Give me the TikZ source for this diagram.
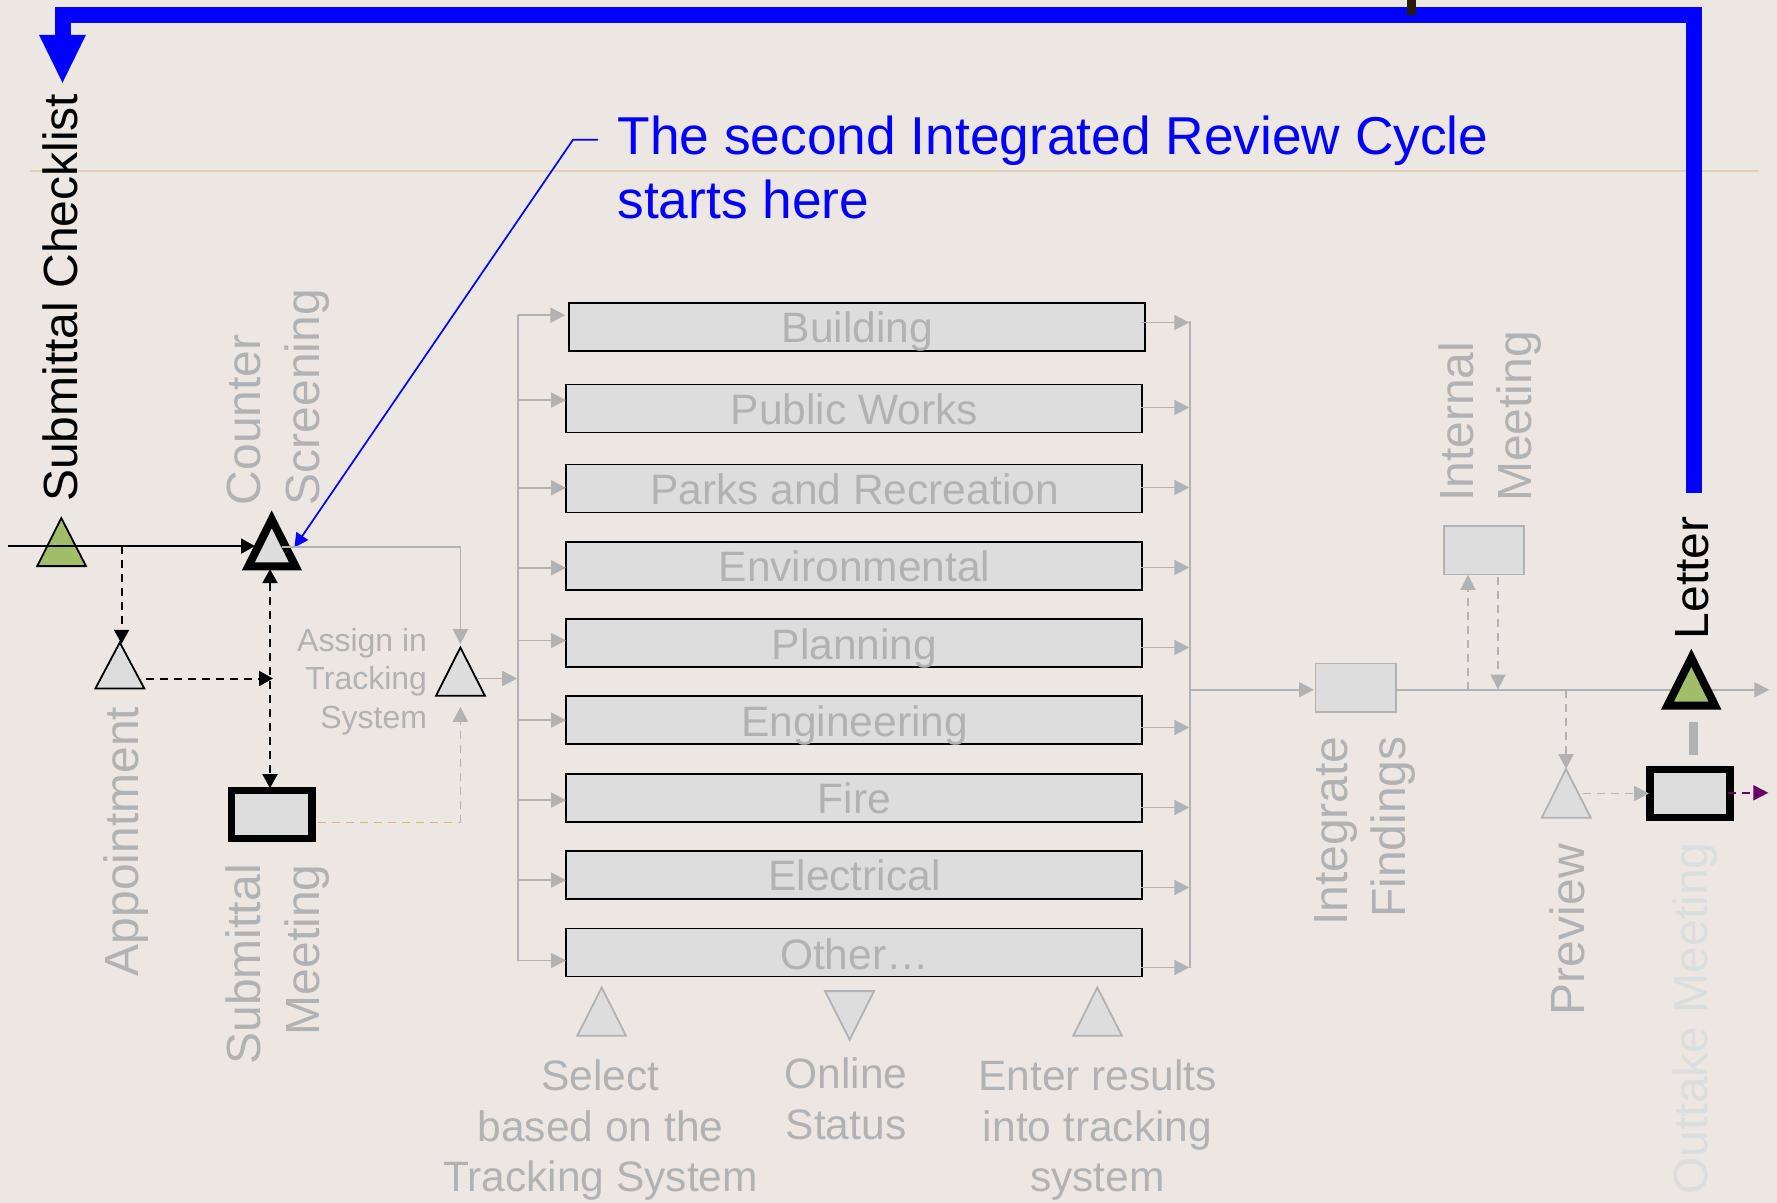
\documentclass[tikz,border=0pt]{standalone}
\usepackage{fontspec}
\setmainfont{Liberation Sans}
\usetikzlibrary{arrows.meta}
\definecolor{bgc}{HTML}{ECE7E3}
\definecolor{graytx}{HTML}{B2B2B2}
\definecolor{boxfill}{HTML}{DDDDDD}
\definecolor{tanline}{HTML}{E0D2B4}
\definecolor{tandash}{HTML}{CDBE80}
\definecolor{greenf}{HTML}{A2BD6A}
\definecolor{ghost}{HTML}{DCDDDD}
\definecolor{purp}{HTML}{660066}
\definecolor{stub}{HTML}{2A1A0A}
\newcommand{\fsz}[1]{\fontsize{#1}{#1}\selectfont}
\tikzset{
 x=0.5pt,y=-0.5pt,
 vert/.style={rotate=90,anchor=base west,inner sep=0pt,outer sep=0pt,font=\fsz{24}},
 vertend/.style={rotate=90,anchor=base east,inner sep=0pt,outer sep=0pt,font=\fsz{24}},
 deptbox/.style={draw=black,fill=boxfill,line width=0.9pt,minimum width=288.3pt,minimum height=24pt,inner sep=0pt,outer sep=0pt},
 gbox/.style={draw=graytx,fill=boxfill,line width=0.9pt,minimum width=40.3pt,minimum height=24.3pt,inner sep=0pt,outer sep=0pt},
 bbox/.style={draw=black,fill=boxfill,line width=3.8pt,minimum width=40.2pt,minimum height=24pt,inner sep=0pt,outer sep=0pt},
 gline/.style={draw=graytx,line width=0.9pt},
 garr/.style={gline,-{Triangle[length=7.5pt,width=7.5pt,fill=graytx]}},
 gdash/.style={garr,dash pattern=on 4pt off 3pt},
 karr/.style={draw=black,line width=1pt,-{Triangle[length=7pt,width=7.5pt,fill=black]}},
 kdash/.style={karr,dash pattern=on 4pt off 3pt},
 tri/.style={draw=black,fill=boxfill,line width=0.9pt,line join=miter},
 gtri/.style={draw=graytx,fill=boxfill,line width=0.9pt,line join=miter},
 thick tri/.style={draw=black,line width=4pt,line join=miter,miter limit=10},
 dept/.style={inner sep=0pt,outer sep=0pt,text=graytx,font=\fsz{21.25},anchor=base},
 btm/.style={inner sep=0pt,outer sep=0pt,text=graytx,font=\fsz{21.25},anchor=base},
 asg/.style={inner sep=0pt,outer sep=0pt,anchor=base east,text=graytx,font=\fsz{16}},
 call/.style={anchor=base west,inner sep=0pt,outer sep=0pt,text=blue,font=\fsz{26.65}},
}
\begin{document}
\begin{tikzpicture}
\fill[bgc] (0,-0.8) rectangle (1777,1202.2);
\useasboundingbox (0,-0.8) rectangle (1777,1202.2);
% tan rule
\draw[tanline,line width=0.8pt] (30,170.5) -- (1758.5,170.5);
% rotated black labels
\node[vert,text=black] (lSubCheck) at (78,501) {Submittal Checklist};
\node[vert,text=black] (lLetter) at (1708.5,638.5) {Letter};
% blue feedback
\coordinate (bEnd) at (1693.7,492);
\coordinate (bCorner) at (1693.7,14.2);
\coordinate (bCornerL) at (62.5,14.2);
\coordinate (bTip) at (62.5,40);
\fill[blue] (39,34) -- (86,34) -- (62.5,82) -- cycle;
\draw[blue,line width=8pt,line join=miter] (bEnd) -- (bCorner) -- (bCornerL) -- (bTip);
\coordinate (stubT) at (1411.7,-2);
\coordinate (stubB) at (1411.7,14);
\draw[stub,line width=4.7pt] (stubT) -- (stubB);
% callout
\node[call] (callA) at (617.5,153.5) {The second Integrated Review Cycle};
\node[call] (callB) at (617.5,217.5) {starts here};
\coordinate (cS) at (598,139);
\coordinate (cK) at (573,139);
\coordinate (cT) at (294.4,546.7);
% triangles
\coordinate (entryS) at (8,545.3);
\draw[tri,fill=greenf] (61.3,517.3) -- (86,565.3) -- (37.2,565.3) -- cycle;
\draw[thick tri,fill=boxfill] (271.7,518.5) -- (295.5,565.5) -- (248.4,565.5) -- cycle;
\coordinate (cntL) at (255,545.3);
\coordinate (cntB) at (270,568.3);
\coordinate (cntR) at (282,546);
\draw[karr] (entryS) -- (cntL);
\draw[blue,line width=0.85pt,line join=miter,-{Triangle[length=7pt,width=7pt,fill=blue]}] (cS) -- (cK) -- (cT);
% appointment
\draw[tri] (119.8,641.7) -- (144.3,687.7) -- (95.4,687.7) -- cycle;
\coordinate (appIn) at (121.6,545.3);
\coordinate (appTip) at (121.6,643);
\draw[kdash] (appIn) -- (appTip);
\coordinate (appOut) at (146.3,677.7);
\coordinate (appTo) at (273,677.7);
\draw[kdash] (appOut) -- (appTo);
% submittal meeting box
\node[bbox] (subM) at (271.85,813.5) {};
\coordinate (subT) at (270,787.3);
\draw[kdash,{Triangle[length=7pt,width=7.5pt,fill=black]}-{Triangle[length=7pt,width=7.5pt,fill=black]}] (cntB) -- (subT);
% assign triangle
\draw[tri] (460.4,646.7) -- (484.9,695) -- (436,695) -- cycle;
\coordinate (asgnTop) at (460.4,643.3);
\coordinate (asgnC) at (460.4,546);
\draw[garr] (cntR) -- (asgnC) -- (asgnTop);
\coordinate (asgnBot) at (460.4,706);
\coordinate (asgnCor) at (460.4,821.7);
\coordinate (subR) at (318,821.7);
\draw[tandash,line width=0.9pt,dash pattern=on 4pt off 3pt] (subR) -- (asgnCor);
\draw[gdash] (asgnCor) -- (asgnBot);
% bus left
\coordinate (busLT) at (517.7,314.4);
\coordinate (busLB) at (517.7,959.7);
\coordinate (asgnOut) at (477,677.7);
\coordinate (busLM) at (517.2,677.7);
\draw[gline,line join=miter] (busLT) -- (busLB);
\draw[garr] (asgnOut) -- (busLM);
% bus right
\coordinate (busRT) at (1190,320);
\coordinate (busRB) at (1190,966.7);
\draw[gline] (busRT) -- (busRB);
% department boxes
\node[deptbox] (b1) at (857,326.35) {};
\node[deptbox] (b2) at (854,407.7) {};
\node[deptbox] (b3) at (854,487.7) {};
\node[deptbox] (b4) at (854,565) {};
\node[deptbox] (b5) at (854,642.3) {};
\node[deptbox] (b6) at (854,719.2) {};
\node[deptbox] (b7) at (854,797) {};
\node[deptbox] (b8) at (854,874.3) {};
\node[deptbox] (b9) at (854,951.7) {};
\node[dept] (t1) at (857.5,341.7) {Building};
\node[dept] (t2) at (854.5,423.3) {Public Works};
\node[dept] (t3) at (854.5,504) {Parks and Recreation};
\node[dept] (t4) at (854.5,581) {Environmental};
\node[dept] (t5) at (854.5,658.3) {Planning};
\node[dept] (t6) at (854.5,736) {Engineering};
\node[dept] (t7) at (854.5,812.7) {Fire};
\node[dept] (t8) at (854.5,889.3) {Electrical};
\node[dept] (t9) at (854.5,968.3) {Other…};
\foreach \n/\y/\xt in {1/314.4/565.3,2/399.3/566,3/487/566,4/567/566,5/639.7/566,6/719.3/566,7/799.3/566,8/879.3/566,9/959.7/566}{
  \coordinate (la\n) at (517.7,\y);
  \coordinate (lb\n) at (\xt,\y);
  \draw[garr] (la\n) -- (lb\n);
}
\foreach \n/\y/\xs in {1/321.7/1141.3,2/406.7/1141.3,3/486.7/1141.3,4/566.7/1141.3,5/646.7/1141.3,6/726.7/1141.3,7/806.7/1141.3,8/886.7/1141.3,9/966.7/1141.3}{
  \coordinate (ra\n) at (\xs,\y);
  \coordinate (rb\n) at (1189.3,\y);
  \draw[garr] (ra\n) -- (rb\n);
}
% integrate
\node[gbox] (integ) at (1355.85,687) {};
\coordinate (busOut) at (1190,689);
\coordinate (integIn) at (1314,689);
\draw[garr] (busOut) -- (integIn);
\coordinate (integOut) at (1396,689);
\coordinate (mainEnd) at (1769.3,689);
\draw[garr] (integOut) -- (mainEnd);
% internal meeting
\node[gbox] (intM) at (1483.95,549.35) {};
\coordinate (imA) at (1468,689);
\coordinate (imB) at (1468,574);
\coordinate (imC) at (1498,576);
\coordinate (imD) at (1498,688.7);
\draw[gdash] (imA) -- (imB);
\draw[gdash] (imC) -- (imD);
% preview
\draw[gtri] (1566,768.3) -- (1590.8,817) -- (1541.8,817) -- cycle;
\coordinate (pvA) at (1566,689);
\coordinate (pvB) at (1566,768.3);
\draw[gdash] (pvA) -- (pvB);
\coordinate (pvC) at (1582.8,792.7);
\coordinate (pvD) at (1649,792.7);
% letter triangle
\draw[thick tri,fill=greenf] (1691.3,657) -- (1715,704.7) -- (1667.5,704.7) -- cycle;
% bar
\coordinate (barT) at (1693.3,720.7);
\coordinate (barB) at (1693.3,754);
\draw[graytx,line width=4.35pt] (barT) -- (barB);
% outtake box
\node[bbox] (outM) at (1689.9,792.8) {};
\draw[gdash] (pvC) -- (pvD);
\coordinate (oS) at (1728,792);
\coordinate (oE) at (1768.3,792);
\draw[draw=purp,line width=0.9pt,dash pattern=on 4pt off 3pt,-{Triangle[length=7.5pt,width=7.5pt,fill=purp]}] (oS) -- (oE);
% bottom triangles
\draw[gtri] (601.7,986.7) -- (626,1035) -- (577.3,1035) -- cycle;
\draw[gtri] (825,990.3) -- (874,990.3) -- (849.7,1039) -- cycle;
\draw[gtri] (1097.3,986.7) -- (1122,1035) -- (1073.3,1035) -- cycle;
% gray rotated labels
\node[vert,text=graytx] (lCounter) at (260.5,504.5) {Counter};
\node[vert,text=graytx] (lScreen) at (319,504.5) {Screening};
\node[vert,text=graytx] (lAppt) at (138,975.5) {Appointment};
\node[vertend,text=graytx] (lSub) at (260.5,863.5) {Submittal};
\node[vertend,text=graytx] (lMeet) at (319.5,863.5) {Meeting};
\node[vert,text=graytx] (lInt) at (1473,501) {Internal};
\node[vert,text=graytx] (lIMeet) at (1531,501) {Meeting};
\node[vertend,text=graytx] (lIntg) at (1347.3,735.5) {Integrate};
\node[vertend,text=graytx] (lFind) at (1405,735.5) {Findings};
\node[vertend,text=graytx] (lPrev) at (1584,843.5) {Preview};
\node[vertend,text=ghost] (lOut) at (1707,841.5) {Outtake Meeting};
% assign label
\node[asg] (as1) at (427,651) {Assign in};
\node[asg] (as2) at (427,688.3) {Tracking};
\node[asg] (as3) at (427,727.3) {System};
% bottom labels
\node[btm] (s1) at (600.6,1089.5) {Select};
\node[btm] (s2) at (600.6,1140.3) {based on the};
\node[btm] (s3) at (600.6,1191) {Tracking System};
\node[btm] (o1) at (846,1088) {Online};
\node[btm] (o2) at (846,1138.5) {Status};
\node[btm] (e1) at (1097.5,1089.5) {Enter results};
\node[btm] (e2) at (1097.5,1140.3) {into tracking};
\node[btm] (e3) at (1097.5,1191) {system};
\end{tikzpicture}
\end{document}
